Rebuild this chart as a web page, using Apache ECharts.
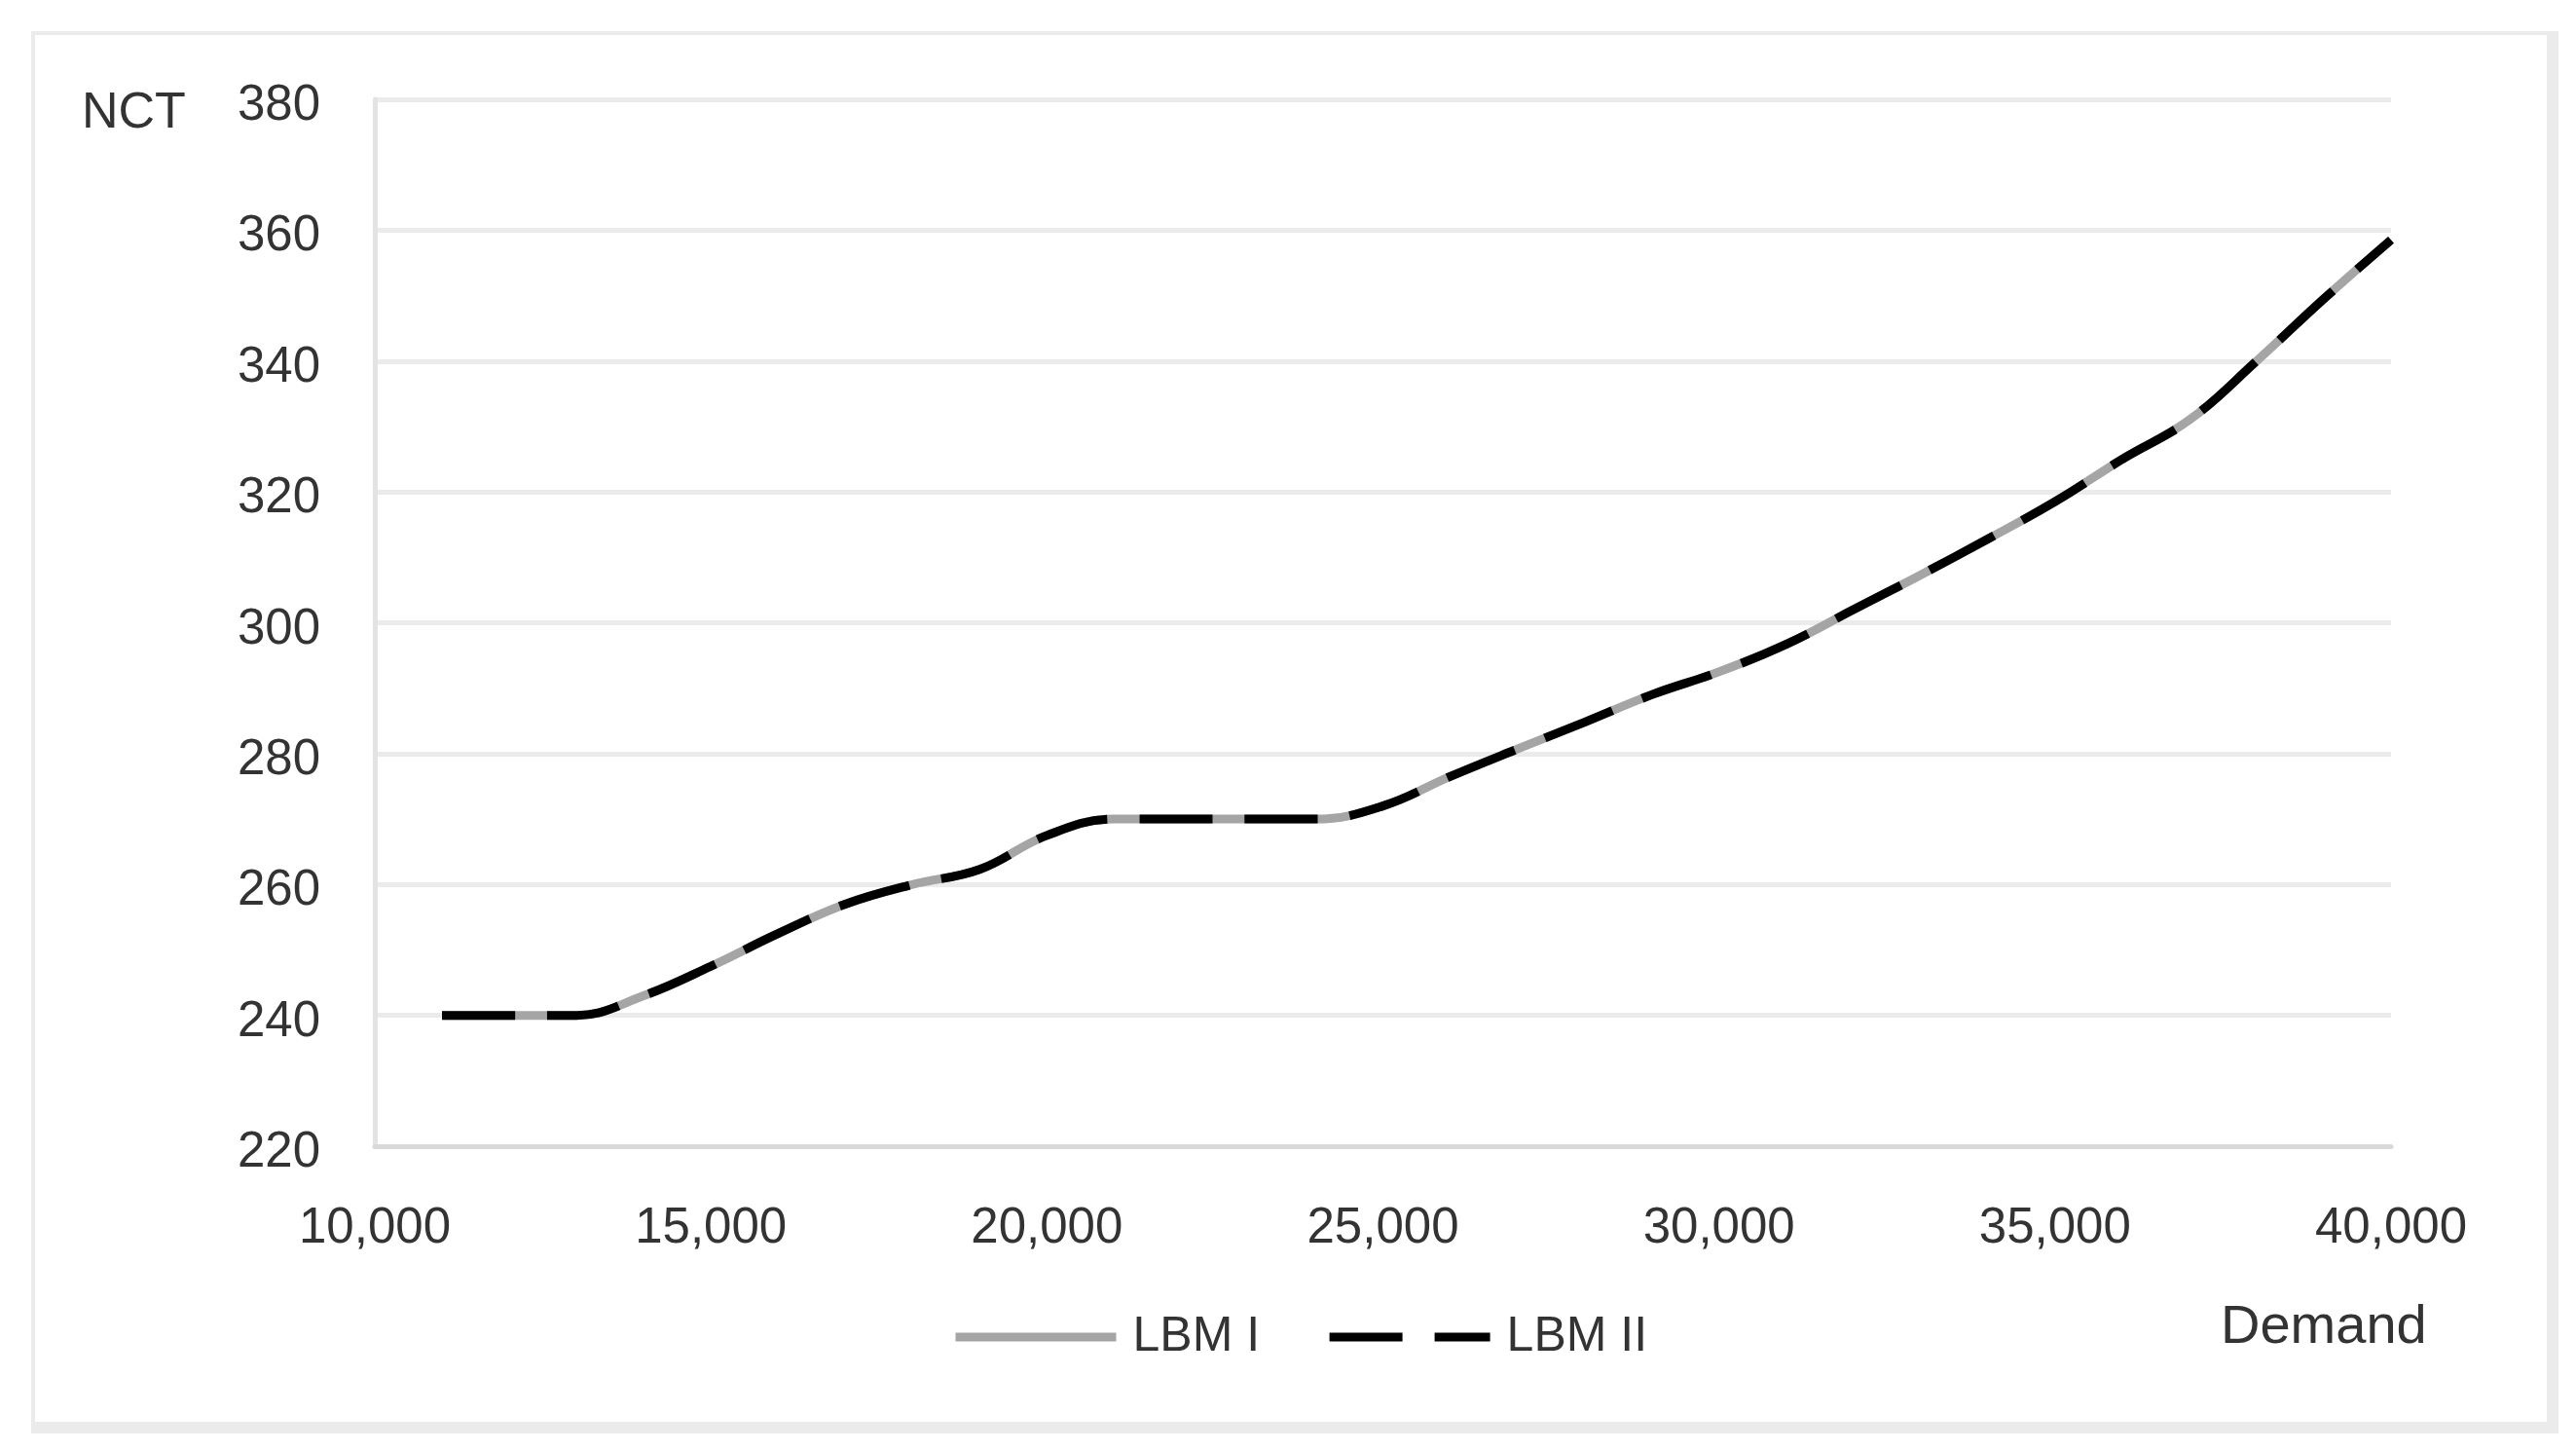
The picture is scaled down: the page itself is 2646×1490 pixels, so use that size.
<!DOCTYPE html>
<html><head><meta charset="utf-8">
<script src="https://cdn.jsdelivr.net/npm/echarts@6/dist/echarts.min.js"></script>
<style>html,body{margin:0;padding:0;background:#fff;}#c{width:2646px;height:1490px;}</style>
</head><body><div id="c"></div>
<script>
// ---- data ----
const demand = [11000,12000,13000,14000,15000,16000,17000,18000,19000,20000,
                21000,22000,23000,24000,25000,26000,27000,28000,29000,30000,
                31000,32000,33000,34000,35000,36000,37000,38000,39000,40000];
const lbmI  = [240,240,240,243,247.5,252.5,257,260,262.3,267.5,
               270,270,270,270,272,276.5,280.7,284.8,289,292.5,
               296.7,302,307.3,312.8,318.5,325,331,340,349.5,358.5];
const lbmII = [240,240,240,243,247.5,252.5,257,260,262.3,267.5,
               270,270,270,270,272,276.5,280.7,284.8,289,292.5,
               296.7,302,307.3,312.8,318.5,325,331,340,349.5,358.5];
const seriesNames = ['LBM I', 'LBM II'];
const yAxisName = 'NCT';
const xAxisName = 'Demand';
const xMin = 10000, xMax = 40000, xStep = 5000;
const yMin = 220, yMax = 380, yStep = 20;

const FONT = "'Liberation Sans', Arial, sans-serif";
const TXT = '#333333';

const chart = echarts.init(document.getElementById('c'), null, {renderer: 'canvas'});
const pts = (ys) => demand.map((d, i) => [d, ys[i]]);

chart.setOption({
  animation: false,
  backgroundColor: '#ffffff',
  graphic: [
    {type: 'rect', z: -10, shape: {x: 32, y: 32, width: 2596, height: 1440}, style: {fill: '#ebebeb'}, silent: true},
    {type: 'rect', z: -9, shape: {x: 36, y: 36, width: 2580, height: 1424}, style: {fill: '#ffffff'}, silent: true},
    {type: 'text', left: 84, top: 91, style: {text: yAxisName, font: "52px " + FONT, fill: TXT}},
    {type: 'text', left: 2281, top: 1336, style: {text: xAxisName, font: "56px " + FONT, fill: TXT}}
  ],
  grid: {left: 385, right: 190, top: 102, bottom: 313, containLabel: false},
  legend: {
    left: 972, top: 1343,
    itemWidth: 165, itemHeight: 12, itemGap: 67,
    itemStyle: {opacity: 0},
    lineStyle: {width: 9},
    textStyle: {fontFamily: FONT, fontSize: 50, color: TXT, padding: [0, 0, 0, 12]},
    data: seriesNames
  },
  xAxis: {
    type: 'value', min: xMin, max: xMax, interval: xStep,
    axisLine: {show: true, lineStyle: {color: '#d9d9d9', width: 5}},
    axisTick: {show: false},
    splitLine: {show: false},
    axisLabel: {
      margin: 59, fontFamily: FONT, fontSize: 51, color: TXT,
      formatter: (v) => v.toLocaleString('en-US')
    }
  },
  yAxis: {
    type: 'value', min: yMin, max: yMax, interval: yStep,
    axisLine: {show: true, lineStyle: {color: '#e3e3e3', width: 5}},
    axisTick: {show: false},
    splitLine: {show: true, lineStyle: {color: '#ebebeb', width: 5}},
    axisLabel: {
      margin: 56, fontFamily: FONT, fontSize: 51, color: TXT,
      formatter: (v) => '{v|' + v + '}',
      rich: {v: {fontFamily: FONT, fontSize: 51, color: TXT, padding: [14, 0, 0, 0]}}
    }
  },
  series: [
    {
      name: seriesNames[0], type: 'line', data: pts(lbmI),
      smooth: 0.4, symbol: 'none',
      lineStyle: {color: '#a5a5a5', width: 9}, itemStyle: {color: '#a5a5a5'}, z: 2
    },
    {
      name: seriesNames[1], type: 'line', data: pts(lbmII),
      smooth: 0.4, symbol: 'none',
      lineStyle: {color: '#000000', width: 9, type: [75, 33]}, itemStyle: {color: '#000000'}, z: 3
    }
  ]
});
</script></body></html>
